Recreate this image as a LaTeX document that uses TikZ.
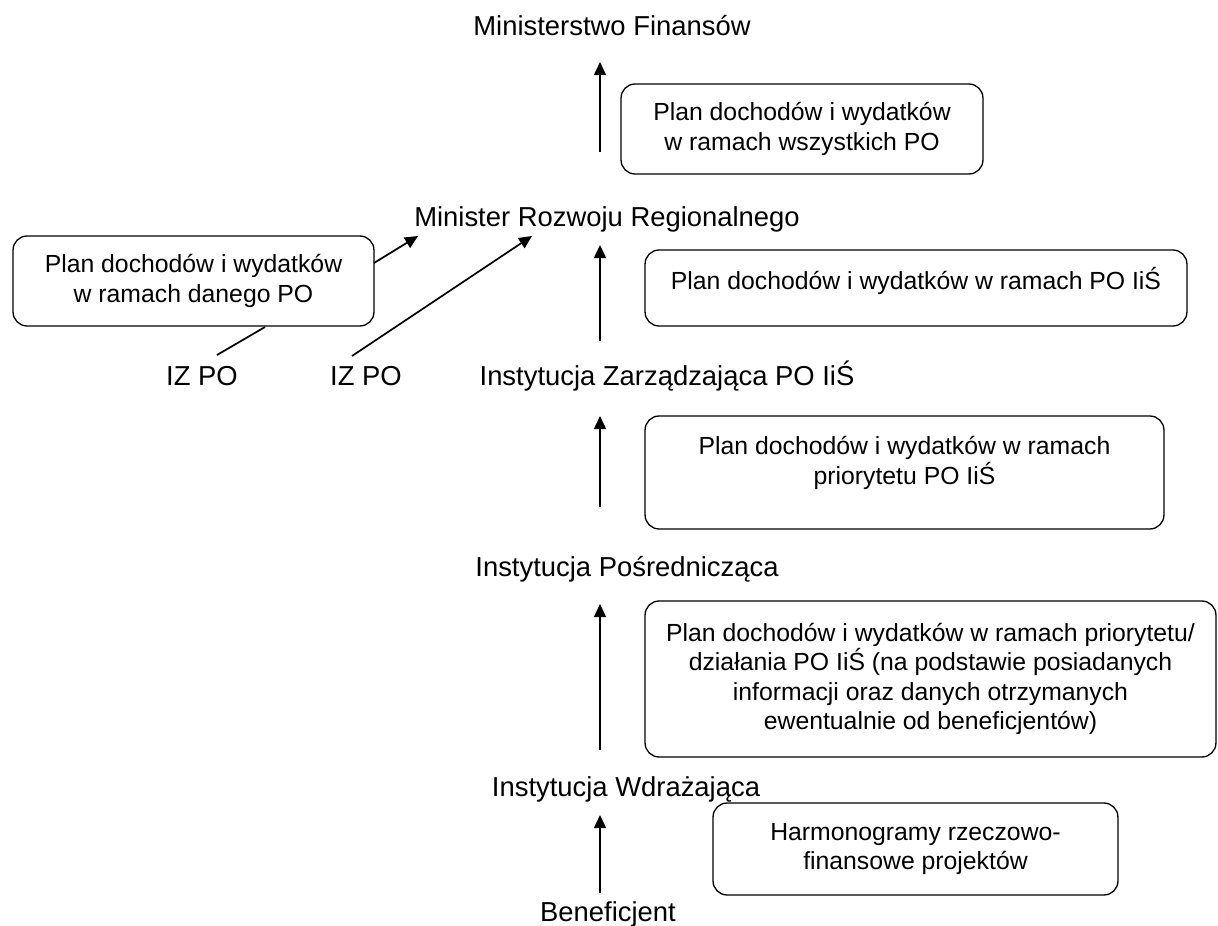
\documentclass[tikz,border=0pt]{standalone}
\usepackage{fontspec}
\setmainfont{Liberation Sans}
\usetikzlibrary{arrows.meta}
\begin{document}
\begin{tikzpicture}[x=0.02cm, y=-0.02cm]
\tikzstyle{lbl}=[draw=none, fill=none, inner sep=0pt, anchor=base, font=\fontsize{15.6}{18}\selectfont]
\tikzstyle{plan}=[draw, rounded corners=8pt, line width=0.75pt, align=center, inner sep=0pt, font=\fontsize{14.1}{16.8}\selectfont]
\tikzstyle{arr}=[line width=1pt, -{Triangle[length=7.4pt, width=6.8pt]}]
\useasboundingbox (0,0) rectangle (1218,926);

% levels
\node[lbl] (MF) at (612,36) {Ministerstwo Finansów};
\node[lbl] (MRR) at (607,227) {Minister Rozwoju Regionalnego};
\node[lbl] (IZPOa) at (202,385) {IZ PO};
\node[lbl] (IZPOb) at (366,385) {IZ PO};
\node[lbl] (IZ) at (667,385) {Instytucja Zarządzająca PO IiŚ};
\node[lbl] (IP) at (627,576) {Instytucja Pośrednicząca};
\node[lbl] (IW) at (626,796) {Instytucja Wdrażająca};
\node[lbl] (Ben) at (608,921) {Beneficjent};

% plans
\node[plan, minimum width=7.24cm, minimum height=1.8cm] (P1) at (802,129)
  {Plan dochodów i wydatków\\w ramach wszystkich PO};
\node[plan, minimum width=7.22cm, minimum height=1.8cm] (P0) at (193.5,281)
  {Plan dochodów i wydatków\\w ramach danego PO};
\node[plan, minimum width=10.84cm, minimum height=1.52cm] (P2) at (916,288)
  {Plan dochodów i wydatków w ramach PO IiŚ\\[-5.5pt]};
\node[plan, minimum width=10.38cm, minimum height=2.26cm] (P3) at (904.5,472.5)
  {Plan dochodów i wydatków w ramach\\priorytetu PO IiŚ\\[-3.2pt]};
\node[plan, minimum width=11.42cm, minimum height=3.12cm] (P4) at (930.5,679)
  {Plan dochodów i wydatków w ramach priorytetu/\\działania PO IiŚ (na podstawie posiadanych\\informacji oraz danych otrzymanych\\ewentualnie od beneficjentów)};
\node[plan, minimum width=8.1cm, minimum height=1.84cm] (P5) at (915.5,849)
  {Harmonogramy rzeczowo-\\finansowe projektów};

% arrow ends
\coordinate (a1s) at (600,152); \coordinate (a1e) at (600,62);
\coordinate (a2s) at (600,341); \coordinate (a2e) at (600,245);
\coordinate (a3s) at (600,507); \coordinate (a3e) at (600,416);
\coordinate (a4s) at (600,750); \coordinate (a4e) at (600,604);
\coordinate (a5s) at (600,893); \coordinate (a5e) at (600,815);
\coordinate (d0s) at (374,263); \coordinate (d0e) at (418,236);
\coordinate (d1s) at (217,355); \coordinate (d1e) at (265,327);
\coordinate (d2s) at (352,356); \coordinate (d2e) at (532,236);

\draw[arr] (a1s) -- (a1e);
\draw[arr] (a2s) -- (a2e);
\draw[arr] (a3s) -- (a3e);
\draw[arr] (a4s) -- (a4e);
\draw[arr] (a5s) -- (a5e);
\draw[arr] (d0s) -- (d0e);
\draw[line width=1pt] (d1s) -- (d1e);
\draw[arr] (d2s) -- (d2e);
\end{tikzpicture}
\end{document}
